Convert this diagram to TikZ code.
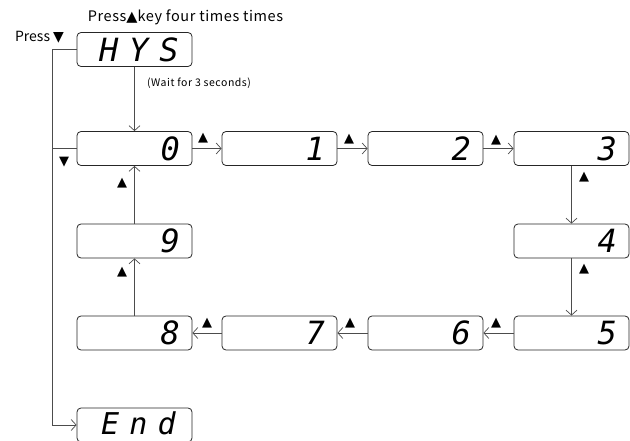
\documentclass[tikz,border=0pt]{standalone}
\usepackage{fontspec}
\setmainfont{Noto Sans CJK SC}
\newfontfamily\symfont{DejaVu Sans}
\newfontfamily\segfont{DejaVu Sans Mono}
\newfontfamily\segwordfont[LetterSpace=34]{DejaVu Sans Mono}
\usepackage{tikz}
\usetikzlibrary{arrows.meta, positioning}
\tikzset{>={Straight Barb[length=5pt,width=11pt]}}
\tikzset{disp/.style={draw=black!85, line width=0.8pt, rounded corners=4pt,
    minimum width=115pt, minimum height=34pt, text width=91pt, inner xsep=12pt,
    align=right, font=\segfont\itshape\fontsize{32}{32}\selectfont}}
\tikzset{dispword/.style={disp, align=left,
    font=\segwordfont\itshape\fontsize{32}{32}\selectfont}}
\tikzset{key/.style={inner sep=0pt, font=\symfont\fontsize{13}{13}\selectfont}}
\tikzset{flow/.style={->, draw=black!70, line width=0.7pt}}
\newcommand{\keyup}{{\symfont ▲}}
\newcommand{\keydown}{{\symfont ▼}}
\begin{document}
\begin{tikzpicture}[x=1pt, y=-1pt]
  \useasboundingbox (0,0) rectangle (630,441);
  % displays
  \node[dispword] (hys) at (134.5,49.5) {\hspace*{10pt}HYS};
  \node[disp] (d0) at (134.5,148.5) {0};
  \node[disp] (d1) at (279.5,148.5) {1};
  \node[disp] (d2) at (425.5,148.5) {2};
  \node[disp] (d3) at (571.5,148.5) {3};
  \node[disp] (d4) at (571.5,241) {4};
  \node[disp] (d5) at (571.5,333) {5};
  \node[disp] (d6) at (425.5,333) {6};
  \node[disp] (d7) at (279.5,333) {7};
  \node[disp] (d8) at (134.5,333) {8};
  \node[disp] (d9) at (134.5,241) {9};
  \node[dispword, font=\segwordfont\itshape\fontsize{30}{30}\selectfont] (dend) at (134.5,425)
    {\hspace*{12pt}\raisebox{4pt}{End}};
  % texts
  \node[inner sep=0pt, font=\fontsize{14.5}{14.5}\selectfont\addfontfeatures{LetterSpace=4}]
    (title) at (185.5,17) {Press\keyup key four times times};
  \node[inner sep=0pt, font=\fontsize{14}{14}\selectfont] (pressdn) at (39.5,37) {Press \keydown};
  \node[inner sep=0pt, font=\fontsize{10.5}{10.5}\selectfont\addfontfeatures{LetterSpace=5}]
    (wait) at (199,83) {(Wait for 3 seconds)};
  % key marks
  \node[key] (t01) at (203,138) {▲};
  \node[key] (t12) at (349,139) {▲};
  \node[key] (t23) at (496,140) {▲};
  \node[key] (t34) at (584,177) {▲};
  \node[key] (t45) at (584,269) {▲};
  \node[key] (t56) at (496,323) {▲};
  \node[key] (t67) at (350,323) {▲};
  \node[key] (t78) at (207,323) {▲};
  \node[key] (t89) at (122,272) {▲};
  \node[key] (t90) at (122,183) {▲};
  \node[key] (tdn) at (64,162) {▼};
  % connectors
  \coordinate (spine) at (52,49.5);
  \foreach \a/\b in {hys/d0, d0/d1, d1/d2, d2/d3, d3/d4, d4/d5, d5/d6, d6/d7, d7/d8, d8/d9, d9/d0}
    \draw[flow] (\a) -- (\b);
  \draw[flow] (hys.west) -- (spine) |- (dend.west);
  \draw[flow, -] (d0.west) -- (d0.west -| spine);
\end{tikzpicture}
\end{document}
